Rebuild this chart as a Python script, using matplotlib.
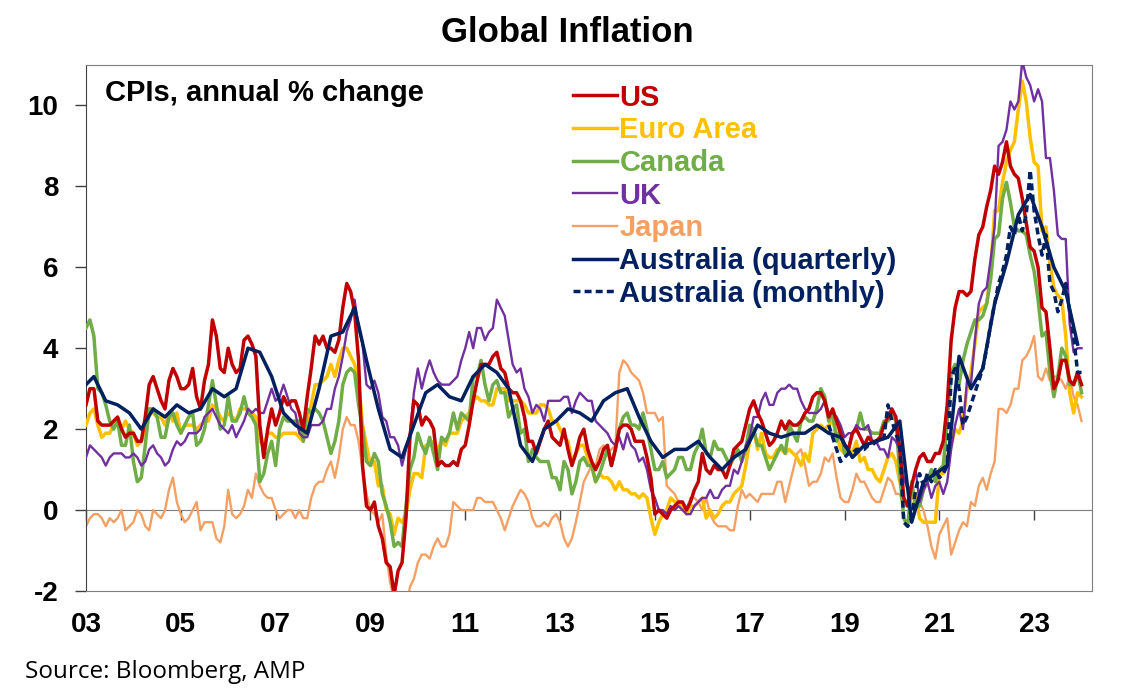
import numpy as np
import pandas as pd
import matplotlib
matplotlib.use('Agg')
import matplotlib.pyplot as plt

# ********************************************** DATA (annual % change) *****************************************
# monthly series, Jan 2003 .. Jan 2024
us = [2.6, 3.0, 3.0, 2.2, 2.1, 2.1, 2.1, 2.2, 2.3, 2.0, 1.8, 1.9,
      1.9, 1.7, 1.7, 2.3, 3.1, 3.3, 3.0, 2.7, 2.5, 3.2, 3.5, 3.3,
      3.0, 3.0, 3.1, 3.5, 2.8, 2.5, 3.2, 3.6, 4.7, 4.3, 3.5, 3.4,
      4.0, 3.6, 3.4, 3.5, 4.2, 4.3, 4.1, 3.8, 2.1, 1.3, 2.0, 2.5,
      2.1, 2.4, 2.8, 2.6, 2.7, 2.7, 2.4, 2.0, 2.8, 3.5, 4.3, 4.1,
      4.3, 4.0, 4.0, 3.9, 4.2, 5.0, 5.6, 5.4, 4.9, 3.7, 1.1, 0.1,
      0.0, 0.2, -0.4, -0.7, -1.3, -1.4, -2.1, -1.5, -1.3, -0.2, 1.8, 2.7,
      2.6, 2.1, 2.3, 2.2, 2.0, 1.1, 1.2, 1.1, 1.1, 1.2, 1.1, 1.5,
      1.6, 2.1, 2.7, 3.2, 3.6, 3.6, 3.6, 3.8, 3.9, 3.5, 3.4, 3.0,
      2.9, 2.9, 2.7, 2.3, 1.7, 1.7, 1.4, 1.7, 2.0, 2.2, 1.8, 1.7,
      1.6, 2.0, 1.5, 1.1, 1.4, 1.8, 2.0, 1.5, 1.2, 1.0, 1.2, 1.5,
      1.6, 1.1, 1.5, 2.0, 2.1, 2.1, 2.0, 1.7, 1.7, 1.7, 1.3, 0.8,
      -0.1, 0.0, -0.1, -0.2, 0.0, 0.1, 0.2, 0.2, 0.0, 0.2, 0.5, 0.7,
      1.4, 1.0, 0.9, 1.1, 1.0, 1.0, 0.8, 1.1, 1.5, 1.6, 1.7, 2.1,
      2.5, 2.7, 2.4, 2.2, 1.9, 1.6, 1.7, 1.9, 2.2, 2.0, 2.2, 2.1,
      2.1, 2.2, 2.4, 2.5, 2.8, 2.9, 2.9, 2.7, 2.3, 2.5, 2.2, 1.9,
      1.6, 1.5, 1.9, 2.0, 1.8, 1.6, 1.8, 1.7, 1.7, 1.8, 2.1, 2.3,
      2.5, 2.3, 1.5, 0.3, 0.1, 0.6, 1.0, 1.3, 1.4, 1.2, 1.2, 1.4,
      1.4, 1.7, 2.6, 4.2, 5.0, 5.4, 5.4, 5.3, 5.4, 6.2, 6.8, 7.0,
      7.5, 7.9, 8.5, 8.3, 8.6, 9.1, 8.5, 8.3, 8.2, 7.7, 7.1, 6.5,
      6.4, 6.0, 5.0, 4.9, 4.0, 3.0, 3.2, 3.7, 3.7, 3.2, 3.1, 3.4,
      3.1]

euro = [2.1, 2.4, 2.5, 2.1, 1.8, 1.9, 1.9, 2.1, 2.2, 2.0, 2.2, 2.0,
        1.9, 1.6, 1.7, 2.0, 2.5, 2.4, 2.3, 2.3, 2.1, 2.4, 2.2, 2.4,
        1.9, 2.1, 2.1, 2.1, 2.0, 2.1, 2.2, 2.2, 2.6, 2.5, 2.3, 2.2,
        2.4, 2.3, 2.2, 2.5, 2.5, 2.5, 2.4, 2.3, 1.7, 1.6, 1.9, 1.9,
        1.8, 1.8, 1.9, 1.9, 1.9, 1.9, 1.8, 1.7, 2.1, 2.6, 3.1, 3.1,
        3.2, 3.3, 3.6, 3.3, 3.7, 4.0, 4.0, 3.8, 3.6, 3.2, 2.1, 1.6,
        1.1, 1.2, 0.6, 0.6, 0.0, -0.1, -0.6, -0.2, -0.3, -0.1, 0.5, 0.9,
        0.9, 0.8, 1.6, 1.6, 1.7, 1.5, 1.7, 1.6, 1.9, 1.9, 1.9, 2.2,
        2.3, 2.4, 2.7, 2.8, 2.7, 2.7, 2.6, 2.6, 3.0, 3.0, 3.0, 2.7,
        2.7, 2.7, 2.7, 2.6, 2.4, 2.4, 2.4, 2.6, 2.6, 2.5, 2.2, 2.2,
        2.0, 1.8, 1.7, 1.2, 1.4, 1.6, 1.6, 1.3, 1.1, 0.7, 0.9, 0.8,
        0.8, 0.7, 0.5, 0.7, 0.5, 0.5, 0.4, 0.4, 0.3, 0.4, 0.3, -0.2,
        -0.6, -0.3, -0.1, 0.0, 0.3, 0.2, 0.2, 0.1, -0.1, 0.1, 0.1, 0.2,
        0.3, -0.2, 0.0, -0.2, -0.1, 0.1, 0.2, 0.2, 0.4, 0.5, 0.6, 1.1,
        1.7, 2.0, 1.5, 1.9, 1.4, 1.3, 1.3, 1.5, 1.5, 1.4, 1.5, 1.4,
        1.3, 1.1, 1.4, 1.2, 1.9, 2.0, 2.1, 2.0, 2.1, 2.2, 1.9, 1.5,
        1.4, 1.5, 1.4, 1.7, 1.2, 1.3, 1.0, 1.0, 0.8, 0.7, 1.0, 1.3,
        1.4, 1.2, 0.7, 0.3, 0.1, 0.3, 0.4, -0.2, -0.3, -0.3, -0.3, -0.3,
        0.9, 0.9, 1.3, 1.6, 2.0, 1.9, 2.2, 3.0, 3.4, 4.1, 4.9, 5.0,
        5.1, 5.9, 7.4, 7.4, 8.1, 8.6, 8.9, 9.1, 9.9, 10.6, 10.1, 9.2,
        8.6, 8.5, 6.9, 7.0, 6.1, 5.5, 5.3, 5.2, 4.3, 2.9, 2.4, 2.9,
        2.8]

canada = [4.5, 4.7, 4.3, 3.0, 2.9, 2.6, 2.2, 2.0, 2.2, 1.6, 1.6, 2.1,
          1.2, 0.7, 0.8, 1.6, 2.5, 2.5, 2.3, 1.8, 1.8, 2.3, 2.4, 2.1,
          1.9, 2.1, 2.3, 2.4, 1.6, 1.7, 2.0, 2.6, 3.2, 2.6, 2.0, 2.1,
          2.8, 2.2, 2.2, 2.4, 2.8, 2.4, 2.3, 2.1, 0.7, 0.9, 1.4, 1.7,
          1.1, 2.0, 2.3, 2.2, 2.2, 2.2, 2.2, 1.7, 2.5, 2.4, 2.5, 2.4,
          2.2, 1.8, 1.4, 1.7, 2.2, 3.1, 3.4, 3.5, 3.4, 2.6, 2.0, 1.2,
          1.1, 1.4, 1.2, 0.4, 0.1, -0.3, -0.9, -0.8, -0.9, 0.1, 1.0, 1.3,
          1.9, 1.6, 1.4, 1.8, 1.4, 1.0, 1.8, 1.7, 1.9, 2.4, 2.0, 2.4,
          2.3, 2.2, 3.3, 3.3, 3.7, 3.1, 2.7, 3.1, 3.2, 2.9, 2.9, 2.3,
          2.5, 2.6, 1.9, 2.0, 1.2, 1.5, 1.3, 1.2, 1.2, 1.2, 0.8, 0.8,
          0.5, 1.2, 1.0, 0.4, 0.7, 1.2, 1.3, 1.1, 1.1, 0.7, 0.9, 1.2,
          1.5, 1.1, 1.5, 2.0, 2.3, 2.4, 2.1, 2.1, 2.0, 2.4, 2.0, 1.5,
          1.0, 1.0, 1.2, 0.8, 0.9, 1.0, 1.3, 1.3, 1.0, 1.0, 1.4, 1.6,
          2.0, 1.4, 1.3, 1.7, 1.5, 1.5, 1.3, 1.1, 1.3, 1.5, 1.2, 1.5,
          2.1, 2.0, 1.6, 1.6, 1.3, 1.0, 1.2, 1.4, 1.6, 1.4, 2.1, 1.9,
          1.7, 2.2, 2.3, 2.2, 2.2, 2.5, 3.0, 2.8, 2.2, 2.4, 1.7, 2.0,
          1.4, 1.5, 1.9, 2.0, 2.4, 2.0, 2.0, 1.9, 1.9, 1.9, 2.2, 2.2,
          2.4, 2.2, 0.9, -0.2, -0.4, 0.7, 0.1, 0.1, 0.5, 0.7, 1.0, 0.7,
          1.0, 1.1, 2.2, 3.4, 3.6, 3.1, 3.7, 4.1, 4.4, 4.7, 4.7, 4.8,
          5.1, 5.7, 6.7, 6.8, 7.7, 8.1, 7.6, 7.0, 6.9, 6.9, 6.8, 6.3,
          5.9, 5.2, 4.3, 4.4, 3.4, 2.8, 3.3, 4.0, 3.8, 3.1, 3.1, 3.4,
          2.9]

uk = [1.3, 1.6, 1.5, 1.4, 1.3, 1.1, 1.3, 1.4, 1.4, 1.4, 1.3, 1.3,
      1.4, 1.3, 1.1, 1.2, 1.5, 1.6, 1.4, 1.3, 1.1, 1.2, 1.5, 1.7,
      1.6, 1.7, 1.9, 1.9, 1.9, 2.0, 2.3, 2.4, 2.5, 2.3, 2.1, 2.0,
      1.9, 2.1, 1.8, 2.0, 2.2, 2.5, 2.4, 2.5, 2.4, 2.4, 2.7, 3.0,
      2.7, 2.8, 3.1, 2.8, 2.5, 2.4, 1.9, 1.8, 1.8, 2.1, 2.1, 2.1,
      2.2, 2.5, 2.5, 3.0, 3.3, 3.8, 4.4, 4.7, 5.2, 4.5, 4.1, 3.1,
      3.0, 3.2, 2.9, 2.3, 2.2, 1.8, 1.8, 1.6, 1.1, 1.5, 1.9, 2.9,
      3.5, 3.0, 3.4, 3.7, 3.4, 3.2, 3.1, 3.1, 3.1, 3.2, 3.3, 3.7,
      4.0, 4.4, 4.0, 4.5, 4.5, 4.2, 4.4, 4.5, 5.2, 5.0, 4.8, 4.2,
      3.6, 3.4, 3.5, 3.0, 2.8, 2.4, 2.6, 2.5, 2.2, 2.7, 2.7, 2.7,
      2.7, 2.8, 2.8, 2.4, 2.7, 2.9, 2.8, 2.7, 2.7, 2.2, 2.1, 2.0,
      1.9, 1.7, 1.6, 1.8, 1.5, 1.9, 1.6, 1.5, 1.2, 1.3, 1.0, 0.5,
      0.3, 0.0, 0.0, -0.1, 0.1, 0.0, 0.1, 0.0, -0.1, -0.1, 0.1, 0.2,
      0.3, 0.3, 0.5, 0.3, 0.3, 0.5, 0.6, 0.6, 1.0, 0.9, 1.2, 1.6,
      1.8, 2.3, 2.3, 2.7, 2.9, 2.6, 2.6, 2.9, 3.0, 3.0, 3.1, 3.0,
      3.0, 2.7, 2.5, 2.4, 2.4, 2.4, 2.5, 2.7, 2.4, 2.4, 2.3, 2.1,
      1.8, 1.9, 1.9, 2.1, 2.0, 2.0, 2.1, 1.7, 1.7, 1.5, 1.5, 1.3,
      1.8, 1.7, 1.5, 0.8, 0.5, 0.6, 1.0, 0.2, 0.5, 0.7, 0.3, 0.6,
      0.7, 0.4, 0.7, 1.5, 2.1, 2.5, 2.0, 3.2, 3.1, 4.2, 5.1, 5.4,
      5.5, 6.2, 7.0, 9.0, 9.1, 9.4, 10.1, 9.9, 10.1, 11.1, 10.7, 10.5,
      10.1, 10.4, 10.1, 8.7, 8.7, 7.9, 6.8, 6.7, 6.7, 4.6, 3.9, 4.0,
      4.0]

japan = [-0.4, -0.2, -0.1, -0.1, -0.2, -0.4, -0.2, -0.3, -0.2, 0.0, -0.5, -0.4,
         -0.3, 0.0, -0.1, -0.4, -0.5, 0.0, -0.1, -0.2, 0.0, 0.5, 0.8, 0.2,
         -0.1, -0.3, -0.2, 0.0, 0.2, -0.5, -0.3, -0.3, -0.3, -0.7, -0.8, -0.4,
         0.5, -0.1, -0.2, -0.1, 0.1, 0.5, 0.3, 0.9, 0.6, 0.4, 0.3, 0.3,
         0.0, -0.2, -0.1, 0.0, 0.0, -0.2, 0.0, -0.2, -0.2, 0.3, 0.6, 0.7,
         0.7, 1.0, 1.2, 0.8, 1.3, 2.0, 2.3, 2.1, 2.1, 1.7, 1.0, 0.4,
         0.0, -0.1, -0.3, -0.1, -1.1, -1.8, -2.2, -2.2, -2.2, -2.5, -1.9, -1.7,
         -1.3, -1.1, -1.1, -1.2, -0.9, -0.7, -0.9, -0.9, -0.6, 0.2, 0.1, 0.0,
         0.0, 0.0, 0.0, 0.3, 0.3, 0.2, 0.2, 0.2, 0.0, -0.2, -0.5, -0.2,
         0.1, 0.3, 0.5, 0.4, 0.2, -0.2, -0.4, -0.4, -0.3, -0.4, -0.2, -0.1,
         -0.3, -0.7, -0.9, -0.7, -0.3, 0.2, 0.7, 0.9, 1.1, 1.1, 1.5, 1.6,
         1.4, 1.5, 1.6, 3.4, 3.7, 3.6, 3.4, 3.3, 3.2, 2.9, 2.4, 2.4,
         2.4, 2.2, 2.3, 0.6, 0.5, 0.4, 0.2, 0.2, 0.0, 0.3, 0.3, 0.2,
         0.0, 0.3, -0.1, -0.3, -0.4, -0.4, -0.4, -0.5, -0.5, 0.1, 0.5, 0.3,
         0.4, 0.3, 0.2, 0.4, 0.4, 0.4, 0.4, 0.7, 0.7, 0.2, 0.6, 1.0,
         1.4, 1.5, 1.1, 0.6, 0.7, 0.7, 0.9, 1.3, 1.2, 1.4, 0.8, 0.3,
         0.2, 0.2, 0.5, 0.9, 0.7, 0.7, 0.5, 0.3, 0.2, 0.2, 0.5, 0.8,
         0.7, 0.4, 0.4, 0.1, 0.1, 0.1, 0.3, 0.2, 0.0, -0.4, -0.9, -1.2,
         -0.6, -0.4, -0.2, -1.1, -0.8, -0.5, -0.3, -0.4, 0.2, 0.1, 0.6, 0.8,
         0.5, 0.9, 1.2, 2.5, 2.5, 2.4, 2.6, 3.0, 3.0, 3.7, 3.8, 4.0,
         4.3, 3.3, 3.2, 3.5, 3.2, 3.3, 3.3, 3.2, 3.0, 3.3, 2.8, 2.6,
         2.2]

# Australia quarterly, Dec 2002 .. Dec 2023 (quarter-end months)
aus_q = [3.0,
         3.3, 2.7, 2.6, 2.4,
         2.0, 2.5, 2.3, 2.6,
         2.4, 2.5, 3.0, 2.8,
         3.0, 4.0, 3.9, 3.3,
         2.4, 2.1, 1.9, 3.0,
         4.3, 4.4, 5.0, 3.7,
         2.5, 1.5, 1.3, 2.1,
         2.9, 3.1, 2.8, 2.7,
         3.3, 3.6, 3.4, 3.0,
         1.6, 1.2, 2.0, 2.2,
         2.5, 2.4, 2.2, 2.7,
         2.9, 3.0, 2.3, 1.7,
         1.3, 1.5, 1.5, 1.7,
         1.3, 1.0, 1.3, 1.5,
         2.1, 1.9, 1.8, 1.9,
         1.9, 2.1, 1.9, 1.8,
         1.3, 1.6, 1.7, 1.8,
         2.2, -0.3, 0.7, 0.9,
         1.1, 3.8, 3.0, 3.5,
         5.1, 6.1, 7.3, 7.8,
         7.0, 6.0, 5.4, 4.1]

# Australia monthly indicator, Sep 2018 .. Jan 2024
aus_m = [2.1, 1.8, 1.5, 1.2,
         1.3, 1.4, 1.4, 1.5, 1.5, 1.5, 1.6, 1.6, 1.7, 1.7, 1.8, 2.6,
         2.2, 1.9, 1.6, -0.3, -0.4, -0.2, 0.5, 0.9, 0.6, 0.9, 0.7, 1.0,
         0.8, 0.9, 1.1, 3.3, 3.5, 3.0, 2.1, 2.3, 2.6, 2.9, 3.2, 3.5,
         4.0, 4.6, 5.1, 5.6, 5.9, 6.3, 7.0, 6.8, 7.3, 6.9, 7.3, 8.4,
         7.4, 6.8, 6.3, 6.8, 5.6, 5.4, 4.9, 5.2, 5.6, 4.9, 4.3, 3.4,
         3.4]

year_ticks = list(range(2003, 2024, 2))
year_labels = ['03', '05', '07', '09', '11', '13', '15', '17', '19', '21', '23']
y_ticks = [-2, 0, 2, 4, 6, 8, 10]


def dec_year(dates):
    return dates.year + (dates.month - 1) / 12.0


t_m = dec_year(pd.date_range('2003-01-01', periods=len(us), freq='MS'))
t_q = dec_year(pd.date_range('2002-12-01', periods=len(aus_q), freq='3MS'))
t_am = dec_year(pd.date_range('2018-09-01', periods=len(aus_m), freq='MS'))

# ****************************************************PLOTTING*******************************************************
plt.rcParams['font.family'] = ['Liberation Sans', 'DejaVu Sans']
plt.rcParams['axes.unicode_minus'] = False
fig = plt.figure(figsize=(11.24, 7.0), dpi=100)
ax = fig.add_axes([0.0765, 0.1557, 0.895, 0.7515])

c_us, c_eu, c_ca, c_uk, c_jp, c_au = '#C00000', '#FFC000', '#70AD47', '#7030A0', '#F4A064', '#002060'
ax.plot(t_m, japan, color=c_jp, lw=1.7, label='Japan', zorder=2)
ax.plot(t_m, euro, color=c_eu, lw=2.5, label='Euro Area', zorder=3)
ax.plot(t_m, canada, color=c_ca, lw=2.5, label='Canada', zorder=3)
ax.plot(t_m, uk, color=c_uk, lw=1.7, label='UK', zorder=4)
ax.plot(t_m, us, color=c_us, lw=2.5, label='US', zorder=4)
ax.plot(t_q, aus_q, color=c_au, lw=2.5, label='Australia (quarterly)', zorder=5)
ax.plot(t_am, aus_m, color=c_au, lw=2.5, ls=(0, (2, 1.2)), label='Australia (monthly)', zorder=5)

ax.set_xlim(2003, 2024.22)
ax.set_ylim(-2, 11)
ax.set_yticks(y_ticks)
ax.set_xticks(year_ticks)
ax.set_xticklabels(year_labels)
ax.tick_params(axis='x', length=0, pad=15, labelsize=20)
ax.tick_params(axis='y', length=8, width=1, pad=12, labelsize=20, color='#404040')
for lab in ax.get_xticklabels() + ax.get_yticklabels():
    lab.set_fontweight('bold')
for side in ['top', 'right', 'bottom']:
    ax.spines[side].set_color('#7f7f7f')
ax.spines['left'].set_color('#404040')

# zero line with year tick marks
zero = ax.secondary_xaxis(0, transform=ax.transData)
zero.set_xticks(year_ticks)
zero.tick_params(axis='x', length=7, width=1, labelbottom=False, color='#404040')
zero.spines['bottom'].set_color('#7f7f7f')

ax.text(0.019, 0.947, 'CPIs, annual % change', transform=ax.transAxes, fontsize=21,
        fontweight='bold', va='center', ha='left')

order = ['US', 'Euro Area', 'Canada', 'UK', 'Japan', 'Australia (quarterly)', 'Australia (monthly)']
h, l = ax.get_legend_handles_labels()
hd = dict(zip(l, h))
leg = ax.legend([hd[k] for k in order], order, loc='upper left', bbox_to_anchor=(0.4665, 0.998),
                frameon=False, fontsize=21, handlelength=1.5, handletextpad=0.1, labelspacing=0.16,
                borderaxespad=0.2)
for txt, line in zip(leg.get_texts(), leg.get_lines()):
    txt.set_color(line.get_color())
    txt.set_fontweight('bold')

fig.text(0.505, 0.953, 'Global Inflation', ha='center', va='center', fontsize=25, fontweight='bold')
fig.text(0.022, 0.04, 'Source: Bloomberg, AMP', ha='left', va='center', fontsize=17.5,
         family=['Open Sans', 'DejaVu Sans'])

fig.savefig('out.png', dpi=100)
